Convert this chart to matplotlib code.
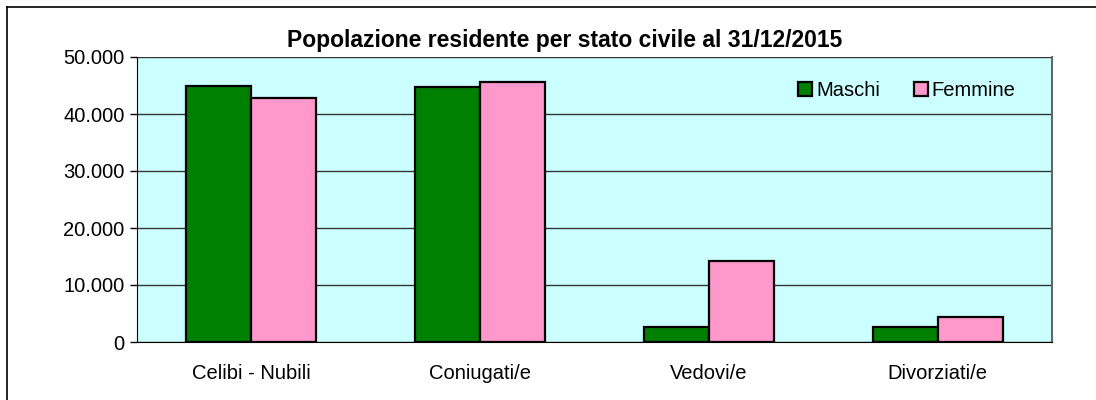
import matplotlib
matplotlib.use('Agg')
import matplotlib.pyplot as plt
import numpy as np
from matplotlib.lines import Line2D
from matplotlib.ticker import FuncFormatter

categories = ['Celibi - Nubili', 'Coniugati/e', 'Vedovi/e', 'Divorziati/e']
maschi = [44900, 44800, 2700, 2650]
femmine = [42750, 45550, 14200, 4450]
series_names = ['Maschi', 'Femmine']
title = 'Popolazione residente per stato civile al 31/12/2015'

plt.rcParams['font.family'] = ['Liberation Sans', 'DejaVu Sans']

fig = plt.figure(figsize=(10.96, 4.0), dpi=100)
# Outer chart border: only top and left edges fall inside the image.
fig.lines.append(Line2D([7 / 1096, 1.0], [1 - 7 / 400, 1 - 7 / 400],
                        transform=fig.transFigure, color='black', linewidth=1.2))
fig.lines.append(Line2D([7 / 1096, 7 / 1096], [0.0, 1 - 7 / 400],
                        transform=fig.transFigure, color='black', linewidth=1.2))

ax = fig.add_axes([137 / 1096, 58 / 400, (1052 - 137) / 1096, (342 - 57) / 400])
ax.set_facecolor('#CCFFFF')

x = np.arange(len(categories))
w = 0.284
ax.bar(x - w / 2, maschi, w, color='#008000', edgecolor='black', linewidth=1.6,
       label=series_names[0], zorder=3)
ax.bar(x + w / 2, femmine, w, color='#FF99CC', edgecolor='black', linewidth=1.6,
       label=series_names[1], zorder=3)

ax.set_xlim(-0.5, len(categories) - 0.5)
ax.set_ylim(0, 50000)
ax.set_yticks(range(0, 50001, 10000))
ax.yaxis.set_major_formatter(FuncFormatter(lambda v, p: f'{int(v):,}'.replace(',', '.')))
ax.set_xticks(x)
ax.set_xticklabels(categories)
ax.tick_params(axis='x', length=0, pad=16, labelsize=14.5)
ax.tick_params(axis='y', length=5, width=1, pad=4, labelsize=14.5)
ax.grid(axis='y', color='#333333', linewidth=1, zorder=1)

ax.spines['top'].set_visible(False)
ax.spines['right'].set_color('#666666')
ax.spines['right'].set_linewidth(1.5)
ax.spines['left'].set_color('black')
ax.spines['bottom'].set_color('black')

fig.text(565 / 1096, 1 - 40 / 400, title, ha='center', va='center',
         fontsize=16.5, fontweight='bold')

ax.legend(loc='upper right', bbox_to_anchor=(0.98, 0.98), ncol=2, frameon=False,
          fontsize=14.5, handlelength=0.7, handleheight=0.7, handletextpad=0.2,
          columnspacing=1.65)

fig.savefig('out.png', dpi=100)
